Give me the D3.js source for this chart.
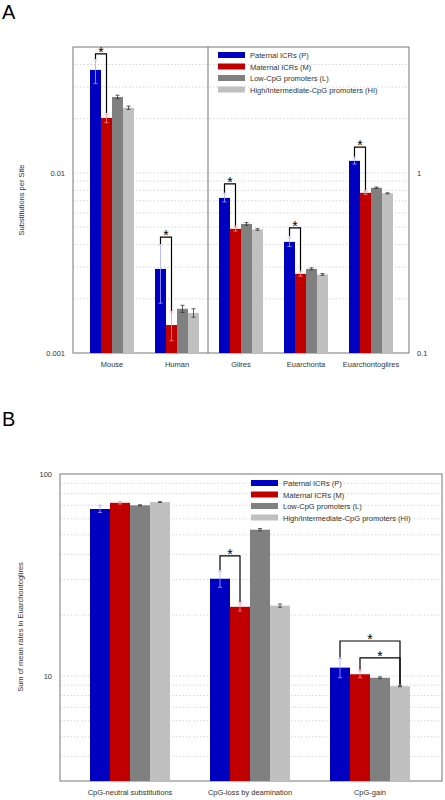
<!DOCTYPE html>
<html><head><meta charset="utf-8">
<script src="https://cdn.jsdelivr.net/npm/d3@7"></script>
<style>body{margin:0;background:#fff}text{font-family:"Liberation Sans",Arial,sans-serif}</style>
</head><body><div id="chart"></div>
<script>
// series
var seriesNames = ['Paternal ICRs (P)', 'Maternal ICRs (M)', 'Low-CpG promoters (L)', 'High/Intermediate-CpG promoters (HI)'];
var barColors = ['#0000c0', '#c00000', '#808080', '#c0c0c0'];
var errColors = ['#a8a8ff', '#ff8c8c', '#333', '#333'];

// panel A, left axis (Mouse, Human)
var groupsA1 = ['Mouse', 'Human'];
var valA1 = [[0.0373, 0.0202, 0.0264, 0.0230], [0.00293, 0.00143, 0.00176, 0.00167]];
var loA1 = [[0.0313, 0.0190, 0.0258, 0.0225], [0.00189, 0.00117, 0.00168, 0.00158]];
var hiA1 = [[0.0424, 0.0212, 0.0270, 0.0235], [0.00398, 0.00169, 0.00184, 0.00176]];
// panel A, right axis (units of right axis)
var groupsA2 = ['Glires', 'Euarchonta', 'Euarchontoglires'];
var valA2 = [[0.726, 0.489, 0.521, 0.485], [0.414, 0.275, 0.293, 0.273], [1.166, 0.775, 0.827, 0.770]];
var loA2 = [[0.690, 0.475, 0.512, 0.480], [0.390, 0.267, 0.289, 0.270], [1.120, 0.760, 0.820, 0.765]];
var hiA2 = [[0.765, 0.503, 0.530, 0.490], [0.440, 0.283, 0.297, 0.276], [1.212, 0.790, 0.834, 0.775]];
// brackets: [group, from series, to series, level]
var bracketsA1 = [[0, 0, 1, 0.0458], [1, 0, 1, 0.0044]];
var bracketsA2 = [[0, 0, 1, 0.87], [1, 0, 1, 0.495], [2, 0, 1, 1.39]];

// panel B
var groupsB = ['CpG-neutral substitutions', 'CpG-loss by deamination', 'CpG-gain'];
var valB = [[67.1, 72.0, 70.0, 72.6], [30.3, 22.0, 53.0, 22.3], [11.0, 10.2, 9.8, 8.9]];
var loB = [[64.5, 71.0, 69.6, 72.3], [27.5, 21.0, 52.3, 21.9], [9.8, 9.8, 9.7, 8.85]];
var hiB = [[70.0, 73.0, 70.4, 72.9], [33.0, 23.0, 53.7, 22.7], [12.2, 10.6, 9.9, 8.95]];
var bracketsB = [[1, 0, 1, 39.3], [2, 0, 3, 14.9], [2, 1, 3, 12.3]];

var svg = d3.select('#chart').append('svg').attr('width', 445).attr('height', 800);
var bw = 11;

function minorTicks(lo, hi) {
  var t = [];
  for (var e = Math.floor(Math.log10(lo)); e <= Math.ceil(Math.log10(hi)); e++)
    for (var k = 1; k < 10; k++) { var v = k * Math.pow(10, e); if (v > lo * 1.0001 && v < hi * 0.9999) t.push(v); }
  return t;
}

function drawGroups(g, x, y, groups, vals, lo, hi, brackets, barW) {
  groups.forEach(function (name, gi) {
    var x0 = x(name) - barW * 2;
    vals[gi].forEach(function (v, si) {
      var bx = x0 + si * barW;
      g.append('rect').attr('x', bx).attr('y', y(v)).attr('width', barW).attr('height', y.range()[0] - y(v)).attr('fill', barColors[si]);
      var cx = bx + barW / 2;
      var ep = d3.path();
      ep.moveTo(cx, y(lo[gi][si])); ep.lineTo(cx, y(hi[gi][si]));
      ep.moveTo(cx - 2, y(lo[gi][si])); ep.lineTo(cx + 2, y(lo[gi][si]));
      ep.moveTo(cx - 2, y(hi[gi][si])); ep.lineTo(cx + 2, y(hi[gi][si]));
      g.append('path').attr('d', ep.toString()).attr('stroke', errColors[si]).attr('stroke-width', 0.8).attr('fill', 'none');
    });
  });
  brackets.forEach(function (b) {
    var name = groups[b[0]], x0 = x(name) - barW * 2;
    var xa = x0 + (b[1] + 0.5) * barW, xb = x0 + (b[2] + 0.5) * barW, yl = y(b[3]);
    var p = d3.path();
    p.moveTo(xa, y(hi[b[0]][b[1]]) - 1); p.lineTo(xa, yl); p.lineTo(xb, yl); p.lineTo(xb, y(hi[b[0]][b[2]]) - 1);
    g.append('path').attr('d', p.toString()).attr('stroke', '#000').attr('stroke-width', 1.2).attr('fill', 'none');
    g.append('text').attr('x', (xa + xb) / 2).attr('y', yl + 3).attr('text-anchor', 'middle').attr('font-size', 14).text('*');
  });
}

function legend(g, x, y0) {
  seriesNames.forEach(function (s, i) {
    g.append('rect').attr('x', x).attr('y', y0 + i * 11.5 - 3).attr('width', 27).attr('height', 6).attr('fill', barColors[i]);
    g.append('text').attr('x', x + 32).attr('y', y0 + i * 11.5 + 3).attr('font-size', 7.5).attr('fill', '#333').text(s);
  });
}

function frame(g, L, R, T, B, y, yTicksMajor) {
  minorTicks(y.domain()[0], y.domain()[1]).forEach(function (v) {
    g.append('line').attr('x1', L).attr('x2', R).attr('y1', y(v)).attr('y2', y(v)).attr('stroke', '#bbb').attr('stroke-width', 0.6).attr('stroke-dasharray', '1.5,2');
  });
  g.append('rect').attr('x', L).attr('y', T).attr('width', R - L).attr('height', B - T).attr('fill', 'none').attr('stroke', '#777');
}

// ---------- Panel A ----------
var gA = svg.append('g');
var LA = 73, RA = 409, TA = 47, BA = 353;
var yA1 = d3.scaleLog().domain([0.001, 0.05]).range([BA, TA]);
var yA2 = d3.scaleLog().domain([0.1, 5]).range([BA, TA]);
var xA1 = d3.scalePoint().domain(groupsA1).range([112, 177]);
var xA2 = d3.scalePoint().domain(groupsA2).range([241, 371]);
frame(gA, LA, RA, TA, BA, yA1);
gA.append('line').attr('x1', 208).attr('x2', 208).attr('y1', TA).attr('y2', BA).attr('stroke', '#777');
drawGroups(gA, xA1, yA1, groupsA1, valA1, loA1, hiA1, bracketsA1, bw);
drawGroups(gA, xA2, yA2, groupsA2, valA2, loA2, hiA2, bracketsA2, bw);
legend(gA, 218, 55);
[0.001, 0.01].forEach(function (v) {
  gA.append('text').attr('x', LA - 8).attr('y', yA1(v) + 3).attr('text-anchor', 'end').attr('font-size', 7.5).attr('fill', '#333').text(v);
});
[0.1, 1].forEach(function (v) {
  gA.append('text').attr('x', RA + 8).attr('y', yA2(v) + 3).attr('font-size', 7.5).attr('fill', '#333').text(v);
});
groupsA1.forEach(function (n) { gA.append('text').attr('x', xA1(n)).attr('y', 367).attr('text-anchor', 'middle').attr('font-size', 7.5).attr('fill', '#333').text(n); });
groupsA2.forEach(function (n) { gA.append('text').attr('x', xA2(n)).attr('y', 367).attr('text-anchor', 'middle').attr('font-size', 7.5).attr('fill', '#333').text(n); });
gA.append('text').attr('transform', 'translate(24,200) rotate(-90)').attr('text-anchor', 'middle').attr('font-size', 7.5).attr('fill', '#333').text('Substitutions per Site');
svg.append('text').attr('x', 2).attr('y', 19).attr('font-size', 20).text('A');

// ---------- Panel B ----------
var gB = svg.append('g');
var LB = 60, RB = 442, TB = 474, BB = 781;
var yB = d3.scaleLog().domain([3.02, 100]).range([BB, TB]);
var xB = d3.scalePoint().domain(groupsB).range([130, 370]);
frame(gB, LB, RB, TB, BB, yB);
drawGroups(gB, xB, yB, groupsB, valB, loB, hiB, bracketsB, 20);
legend(gB, 251, 483);
[10, 100].forEach(function (v) {
  gB.append('text').attr('x', LB - 8).attr('y', yB(v) + 3).attr('text-anchor', 'end').attr('font-size', 7.5).attr('fill', '#333').text(v);
});
groupsB.forEach(function (n) { gB.append('text').attr('x', xB(n)).attr('y', 795).attr('text-anchor', 'middle').attr('font-size', 7.5).attr('fill', '#333').text(n); });
gB.append('text').attr('transform', 'translate(23,627) rotate(-90)').attr('text-anchor', 'middle').attr('font-size', 7.5).attr('fill', '#333').text('Sum of mean rates in Euarchontoglires');
svg.append('text').attr('x', 2).attr('y', 426).attr('font-size', 20).text('B');
</script></body></html>
